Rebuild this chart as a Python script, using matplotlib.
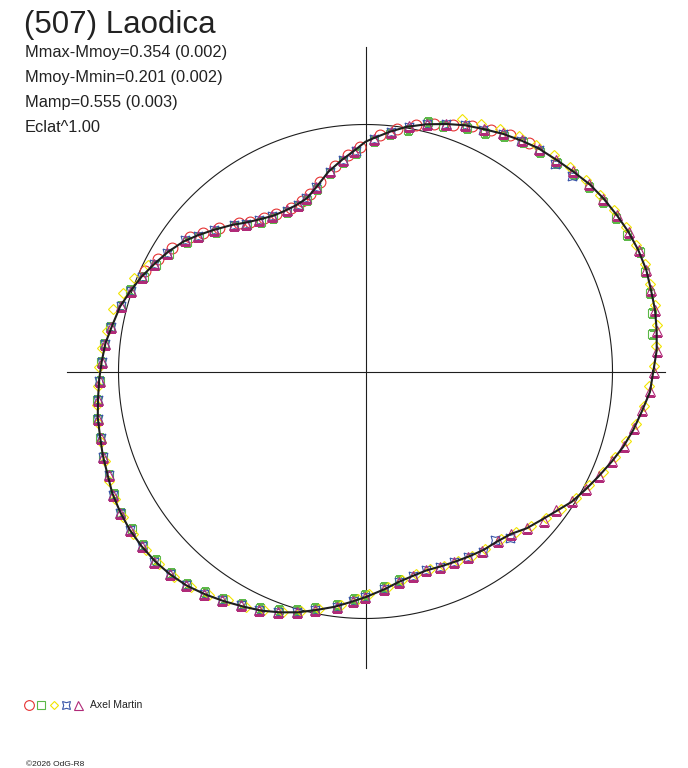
import numpy as np
import matplotlib.pyplot as plt

plt.rcParams['font.family'] = ['Liberation Sans', 'DejaVu Sans']

title = '(507) Laodica'
stats = ['Mmax-Mmoy=0.354 (0.002)', 'Mmoy-Mmin=0.201 (0.002)', 'Mamp=0.555 (0.003)', 'Eclat^1.00']
observer = 'Axel Martin'
credit = '\u00a92026 OdG-R8'

ref_radius = 247   # radius of the mean-magnitude circle

# fitted polar lightcurve: angle (deg) and radius
fit_theta = [0, 4.2, 8.1, 12.0, 15.9, 19.9, 24.0, 28.0, 31.9, 36.1,
             39.9, 43.9, 47.9, 52.3, 55.9, 59.9, 64.1, 68.0, 71.8, 76.1,
             80.4, 84.2, 88.1, 90.0, 92.7, 96.4, 100.5, 104.8, 108.7, 112.5,
             116.0, 120.6, 124.7, 128.7, 132.4, 137.1, 140.8, 144.5, 148.7, 152.8,
             157.0, 161.3, 165.2, 170.0, 173.8, 177.9, 181.5, 185.7, 189.8, 193.6,
             197.6, 201.8, 205.6, 209.7, 213.9, 218.0, 222.1, 226.0, 230.1, 234.2,
             238.2, 242.5, 246.5, 250.5, 254.4, 258.4, 262.6, 266.6, 270.3, 275.1,
             279.1, 283.2, 287.1, 291.3, 295.2, 299.4, 303.4, 307.7, 311.8, 315.8,
             319.6, 323.5, 327.7, 331.6, 335.7, 339.9, 343.7, 347.7, 351.7, 355.9]
fit_r = [287.8, 292.0, 294.1, 296.0, 296.9, 298.6, 298.6, 297.7, 296.0, 294.2,
         292.0, 288.3, 285.1, 282.3, 278.7, 274.6, 269.6, 265.6, 260.5, 254.7,
         248.2, 241.0, 233.3, 229.8, 221.7, 212.8, 203.2, 191.1, 182.9, 180.2,
         179.7, 181.0, 185.2, 190.9, 198.4, 207.8, 215.8, 223.7, 230.7, 236.7,
         243.1, 248.7, 253.9, 257.7, 261.6, 264.0, 266.3, 268.8, 271.7, 273.2,
         275.7, 277.8, 280.9, 282.7, 284.0, 284.0, 283.4, 281.7, 279.0, 274.6,
         270.0, 265.0, 260.8, 255.5, 250.0, 243.4, 237.2, 230.6, 225.2, 218.4,
         212.9, 209.7, 208.0, 209.0, 210.2, 212.0, 213.9, 215.0, 218.0, 224.9,
         229.8, 235.9, 243.9, 249.4, 255.5, 262.2, 268.5, 274.1, 279.1, 285.2]

# observations, one pair of lists per session
red_theta = [54.5, 58.5, 62.5, 66.5, 70.5, 74.5, 78.5, 82.5, 86.5, 91.5,
             94.5, 98.5, 103.5, 107.5, 110.5, 114.5, 119.5, 123.5, 127.5, 130.5,
             135.5, 139.5, 142.5, 147.5, 151.5, 155.5]
red_r = [281, 277, 272, 268, 262, 257, 252, 245, 237, 225,
         217, 208, 195, 186, 182, 180, 181, 184, 189, 195,
         205, 214, 221, 229, 236, 242]

green_theta = [7.5, 11.5, 15.5, 19.5, 23.5, 27.5, 31.5, 35.5, 39.5, 43.5,
               47.5, 51.5, 55.5, 59.5, 63.5, 67.5, 72.5, 76, 80, 84, 88,
               92.5, 96, 100, 105, 109, 112, 116,
               121, 125, 129, 132, 137, 141, 144, 149, 153, 157,
               161, 165, 170, 174, 178, 182, 186, 190, 194, 198,
               202, 206, 210, 214, 218, 222, 226, 230, 234, 238,
               242, 246, 250, 254, 258, 263, 267, 270, 275, 279]
green_r = [289, 292, 295, 297, 299, 295, 294, 292, 290, 287,
           283, 280, 278, 273, 267, 264, 257, 257, 245, 239, 231,
           219, 211, 202, 189, 181, 178, 178,
           179, 183, 188, 196, 205, 214, 221, 229, 235, 241,
           249, 253, 259, 263, 265, 266, 270, 273, 274, 276,
           277, 280, 282, 282, 282, 282, 280, 277, 273, 268,
           263, 259, 254, 248, 242, 235, 228, 223, 216, 211]

yellow_theta = [154, 158, 162, 166, 171, 175, 179, 183, 187, 191,
                195, 199, 203, 207, 211, 215, 219, 223, 227, 231,
                235, 239, 243, 247, 251, 255, 259, 264, 268, 271,
                276, 280, 284, 288, 292, 296, 300, 304, 309, 313,
                317, 321, 325, 329, 333, 337, 341, 345, 349, 353,
                357, 1, 5, 9, 13, 17, 21, 25, 29, 33,
                37, 41, 45, 49, 53, 57, 61, 65, 69]
yellow_r = [242, 250, 255, 260, 262, 265, 267, 268, 271, 272,
            274, 276, 279, 281, 283, 284, 283, 282, 281, 277,
            273, 266, 264, 259, 254, 248, 242, 235, 228, 223,
            217, 212, 209, 208, 210, 211, 213, 214, 216, 220,
            226, 232, 239, 245, 251, 258, 264, 270, 276, 281,
            284, 289, 292, 295, 297, 298, 299, 299, 298, 296,
            294, 292, 289, 287, 284, 281, 277, 273, 270]

blue_theta = [43.5, 47.5, 52, 56, 60, 64, 68, 72, 76, 80, 84, 88,
              92.5, 96, 100, 105, 109, 112, 116, 121, 125, 129,
              132, 137, 141, 144, 149, 153, 157, 161, 165, 170,
              174, 178, 182, 186, 190, 194, 198, 202, 206, 210,
              214, 218, 222, 226, 230, 234, 238, 242, 246, 250,
              254, 258, 263, 267, 270, 275, 279, 283, 287, 291,
              295, 299, 303, 307.5, 311]
blue_r = [284, 281, 281, 278, 274, 269, 266, 260, 255, 248, 241, 233,
          221, 213, 203, 191, 183, 180, 179, 181, 185, 190,
          197, 207, 216, 223, 231, 237, 243, 248, 253, 258,
          262, 264, 267, 269, 272, 273, 276, 277, 281, 283,
          284, 284, 284, 282, 279, 275, 270, 265, 261, 256,
          250, 244, 237, 230, 225, 218, 213, 210, 208, 209,
          210, 212, 215, 213, 220]

tri_theta = [0, 4, 8, 12, 16, 20, 24, 28, 32, 36,
             40, 44, 48, 52, 56, 60, 64, 68, 72, 76,
             80, 84, 88, 93, 96, 100, 105, 109, 112, 116,
             121, 125, 129, 132, 137, 141, 144, 149, 153, 157,
             161, 165, 170, 174, 178, 182, 186, 190, 194, 198,
             202, 206, 210, 214, 218, 222, 226, 230, 234, 238,
             242, 246, 250, 254, 258, 263, 267, 270, 275, 279,
             283, 287, 291, 295, 299, 303, 308, 312, 316, 320,
             324, 328, 332, 336, 340, 344, 348, 352, 356]
tri_r = [288, 292, 294, 296, 297, 298, 299, 298, 296, 294,
         292, 289, 285, 282, 279, 275, 270, 266, 260, 255,
         249, 241, 233, 221, 213, 204, 191, 183, 180, 180,
         181, 185, 190, 197, 207, 216, 223, 231, 237, 243,
         248, 253, 258, 262, 264, 266, 269, 272, 273, 276,
         277, 281, 283, 284, 284, 284, 282, 279, 275, 270,
         265, 261, 256, 250, 244, 237, 230, 225, 218, 213,
         210, 208, 209, 210, 212, 214, 215, 218, 225, 233,
         236, 244, 250, 256, 262, 269, 274, 279, 285]

# session styles: marker, colour, size
sessions = [
    (red_theta, red_r, 'o', '#e63232', 7.8),
    (green_theta, green_r, 's', '#5cb848', 5.8),
    (yellow_theta, yellow_r, 'D', '#f2e400', 5.0),
    (blue_theta, blue_r, (4, 1, 45), '#3a56a8', 9.0),
    (tri_theta, tri_r, '^', '#b02a78', 7.2),
]

W, H = 688, 768
cx, cy = 365.5, 371.5   # pixel position of the pole
R = 330

fig = plt.figure(figsize=(W / 100, H / 100), dpi=100)
ax = fig.add_axes([(cx - R) / W, (H - cy - R) / H, 2 * R / W, 2 * R / H], projection='polar')
ax.set_theta_zero_location('E')
ax.set_rlim(0, R)
ax.set_axis_off()

ink = '#1e1e1e'

# mean circle
t = np.linspace(0, 2 * np.pi, 721)
ax.plot(t, np.full_like(t, ref_radius), color=ink, lw=0.8, zorder=1)

for th, rr, m, c, ms in sessions:
    ax.plot(np.deg2rad(th), rr, ls='none', marker=m, ms=ms, mfc='none', mec=c, mew=0.8, zorder=2)

# fitted curve on top
th = np.deg2rad(fit_theta + [fit_theta[0] + 360])
ax.plot(th, fit_r + [fit_r[0]], color=ink, lw=1.5, zorder=3)

# overlay in pixel units for crosshair, texts and legend
ov = fig.add_axes([0, 0, 1, 1], zorder=-1)
ov.set_xlim(0, W)
ov.set_ylim(H, 0)
ov.set_axis_off()

ov.plot([cx - 298.5, cx + 299.5], [cy, cy], color=ink, lw=0.8)
ov.plot([cx, cx], [cy - 324.5, cy + 296.5], color=ink, lw=0.8)

txt = '#222222'
ov.text(24, 33, title, fontsize=22.5, color=txt, va='baseline')
for i, s in enumerate(stats):
    ov.text(25, 57 + 25 * i, s, fontsize=11.8, color=txt, va='baseline')

leg_x = [29, 41, 53.5, 66, 78]
for (th_, rr_, m, c, ms), x in zip(sessions, leg_x):
    ov.plot(x, 704.5, marker=m, ms=ms * 0.9, mfc='none', mec=c, mew=0.8, ls='none')
ov.text(90.5, 708.5, observer, fontsize=7.5, color=txt, va='baseline')
ov.text(26, 765.5, credit, fontsize=6, color=txt, va='baseline')

fig.savefig('out.png', dpi=100)
